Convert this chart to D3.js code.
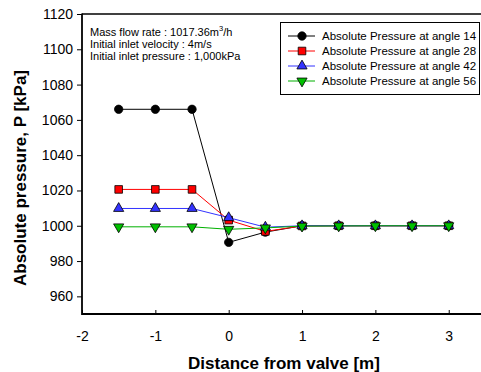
<!DOCTYPE html>
<html>
<head>
<meta charset="utf-8">
<script src="https://cdn.jsdelivr.net/npm/d3@7"></script>
<style>
  body { margin: 0; background: #fff; }
  svg { display: block; font-family: "Liberation Sans", Arial, sans-serif; }
</style>
</head>
<body>
<svg id="mainsvg" width="481" height="372"></svg>
<script>
// distances along the pipe [m]
let distances = [-1.5, -1, -0.5, 0, 0.5, 1, 1.5, 2, 2.5, 3];
let angle14 = [1066, 1066, 1066, 990.6, 996.4, 1000, 1000, 1000, 1000, 1000];
let angle28 = [1020.6, 1020.6, 1020.6, 1003.2, 996.8, 999.9, 1000, 1000, 1000, 1000];
let angle42 = [1009.8, 1009.8, 1009.8, 1004.6, 999.2, 1000, 1000, 1000, 1000, 1000];
let angle56 = [999.4, 999.4, 999.4, 998, 998.8, 999.8, 999.9, 1000, 1000, 1000];
let seriesNames = ["Absolute Pressure at angle 14", "Absolute Pressure at angle 28",
                   "Absolute Pressure at angle 42", "Absolute Pressure at angle 56"];
let xTicks = [-2, -1, 0, 1, 2, 3];
let yTicks = [960, 980, 1000, 1020, 1040, 1060, 1080, 1100, 1120];
let notes = ["Mass flow rate : 1017.36m", "Initial inlet velocity : 4m/s", "Initial inlet pressure : 1,000kPa"];

let styles = [
    {line: "#000000", fill: "#000000", shape: d3.symbolCircle},
    {line: "#ff0000", fill: "#ff0000", shape: d3.symbolSquare},
    {line: "#3333ff", fill: "#3333ff", shape: d3.symbolTriangle},
    {line: "#00b000", fill: "#00c000", shape: "down"}
];

let svg = d3.select("#mainsvg");
let plotLeft = 82, plotRight = 481, plotTop = 14, plotBottom = 314;

let x = d3.scaleLinear().domain([-2, 3.44]).range([plotLeft, plotRight]);
let y = d3.scaleLinear().domain([950, 1120]).range([plotBottom, plotTop]);

// y axis (outward ticks)
let yAxis = svg.append("g").attr("transform", "translate(" + plotLeft + ",0)")
    .call(d3.axisLeft(y).tickValues(yTicks).tickSize(5).tickPadding(4).tickFormat(d => String(d)));
yAxis.select(".domain").remove();
yAxis.selectAll("line").attr("stroke", "#000");
yAxis.selectAll("text").attr("font-size", 14).attr("fill", "#000")
    .attr("font-family", "Liberation Sans, Arial, sans-serif");

// x axis (inward ticks)
let xAxis = svg.append("g").attr("transform", "translate(0," + plotBottom + ")")
    .call(d3.axisBottom(x).tickValues(xTicks).tickSize(-4).tickPadding(17).tickFormat(d => String(d)));
xAxis.select(".domain").remove();
xAxis.selectAll("line").attr("stroke", "#000");
xAxis.selectAll("text").attr("font-size", 14).attr("fill", "#000")
    .attr("font-family", "Liberation Sans, Arial, sans-serif");

// frame lines
svg.append("line").attr("x1", plotLeft).attr("x2", plotRight).attr("y1", plotTop).attr("y2", plotTop)
    .attr("stroke", "#000").attr("stroke-width", 1.3);
svg.append("line").attr("x1", plotLeft).attr("x2", plotRight).attr("y1", plotBottom).attr("y2", plotBottom)
    .attr("stroke", "#000").attr("stroke-width", 1.8);
svg.append("line").attr("x1", plotLeft).attr("x2", plotLeft).attr("y1", plotTop - 0.6).attr("y2", plotBottom + 0.9)
    .attr("stroke", "#000").attr("stroke-width", 1.8);

// axis titles
svg.append("text").attr("x", 284).attr("y", 369).attr("text-anchor", "middle")
    .attr("font-size", 17).attr("font-weight", "bold").text("Distance from valve [m]");
svg.append("text").attr("transform", "translate(26,178) rotate(-90)").attr("text-anchor", "middle")
    .attr("font-size", 17).attr("font-weight", "bold").text("Absolute pressure, P [kPa]");

function markerPath(shape, size) {
    if (shape === "down") {
        return d3.symbol().type(d3.symbolTriangle).size(size)();
    }
    return d3.symbol().type(shape).size(size)();
}

function drawMarker(g, st, cx, cy) {
    let p = g.append("path")
        .attr("d", markerPath(st.shape, st.shape === d3.symbolCircle ? 55 : (st.shape === d3.symbolSquare ? 58 : 45)))
        .attr("fill", st.fill).attr("stroke", "#000").attr("stroke-width", 0.8);
    let tr = "translate(" + cx + "," + cy + ")";
    if (st.shape === "down") tr += " rotate(180)";
    p.attr("transform", tr);
}

let allSeries = [angle14, angle28, angle42, angle56];
let line = d3.line().x((d, i) => x(distances[i])).y(d => y(d));
let plotg = svg.append("g");
allSeries.forEach(function (vals, k) {
    plotg.append("path").attr("d", line(vals)).attr("fill", "none")
        .attr("stroke", styles[k].line).attr("stroke-width", 1);
});
allSeries.forEach(function (vals, k) {
    vals.forEach(function (v, i) {
        drawMarker(plotg, styles[k], x(distances[i]), y(v));
    });
});

// annotation
let ng = svg.append("g").attr("font-size", 11);
ng.append("text").attr("x", 90).attr("y", 35.5).text(notes[0])
    .append("tspan").attr("font-size", 7.5).attr("dy", -4.5).text("3")
    .append("tspan").attr("font-size", 11).attr("dy", 4.5).text("/h");
ng.append("text").attr("x", 90).attr("y", 47.5).text(notes[1]);
ng.append("text").attr("x", 90).attr("y", 59.5).text(notes[2]);

// legend
let lg = svg.append("g");
lg.append("rect").attr("x", 280.5).attr("y", 22.5).attr("width", 199).attr("height", 72)
    .attr("fill", "#fff").attr("stroke", "#000").attr("stroke-width", 1);
seriesNames.forEach(function (name, k) {
    let ly = 36 + k * 15;
    lg.append("line").attr("x1", 288).attr("x2", 315).attr("y1", ly).attr("y2", ly)
        .attr("stroke", styles[k].line).attr("stroke-width", 1);
    drawMarker(lg, styles[k], 302, ly);
    lg.append("text").attr("x", 322).attr("y", ly + 4).attr("font-size", 11.5).text(name);
});
</script>
</body>
</html>
